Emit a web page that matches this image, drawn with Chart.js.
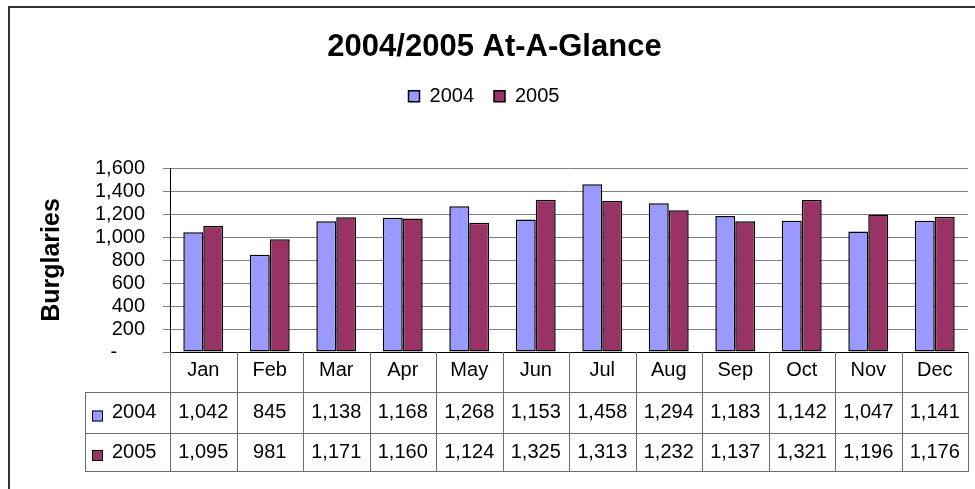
<!DOCTYPE html>
<html>
<head>
<meta charset="utf-8">
<script src="https://cdn.jsdelivr.net/npm/chart.js@4/dist/chart.umd.min.js"></script>
<style>
html,body{margin:0;padding:0;background:#fff;overflow:hidden}
#wrap{width:975px;height:489px;position:relative}
</style>
</head>
<body>
<div id="wrap"><canvas id="c" width="975" height="489"></canvas></div>
<script>
// ---- data ----
const months = ['Jan','Feb','Mar','Apr','May','Jun','Jul','Aug','Sep','Oct','Nov','Dec'];
const seriesNames = ['2004','2005'];
const values2004 = [1042,845,1138,1168,1268,1153,1458,1294,1183,1142,1047,1141];
const values2005 = [1095,981,1171,1160,1124,1325,1313,1232,1137,1321,1196,1176];
const yMin = 0, yMax = 1600, yStep = 200;
const chartTitle = '2004/2005 At-A-Glance';
const yTitle = 'Burglaries';

// ---- styles ----
const FONT = 'Arial, "Liberation Sans", sans-serif';
const colors = ['#9999FF', '#993366'];
const fmt = v => v.toLocaleString('en-US');
const TOP_OF_PLOT = 168;

// empty layout box that keeps a gap between the legend and the plot
const spacerPlugin = {
  id: 'spacer',
  beforeInit(chart) {
    const box = {
      position: 'top', weight: 500, fullSize: true, options: {},
      top: 0, left: 0, right: 0, bottom: 0, width: 0, height: 0,
      isHorizontal() { return true; },
      update(maxWidth) {
        this.width = maxWidth;
        const t = chart.titleBlock, l = chart.legend;
        const used = (t ? t.height : 0) + (l ? l.height : 0);
        this.height = Math.max(0, TOP_OF_PLOT - used);
      },
      draw() {}
    };
    Chart.layouts.addBox(chart, box);
  }
};

const tablePlugin = {
  id: 'dataTable',
  afterLayout(chart) {
    if (chart.titleBlock) chart.titleBlock.left = 21;
  },
  beforeDraw(chart) {
    const ctx = chart.ctx;
    ctx.save();
    ctx.fillStyle = '#fff';
    ctx.fillRect(0, 0, chart.width, chart.height);
    ctx.strokeStyle = '#333';
    ctx.lineWidth = 2;
    ctx.strokeRect(9, 7, 1000, 600);
    ctx.restore();
  },
  afterDraw(chart) {
    const ctx = chart.ctx;
    const x = chart.scales.x;
    const area = chart.chartArea;
    const n = months.length;
    const half = (x.getPixelForValue(1) - x.getPixelForValue(0)) / 2;
    const top = area.bottom;
    const rowLines = [392, 433, 471];
    const legendLeft = 85;
    const right = x.getPixelForValue(n - 1) + half;
    ctx.save();
    ctx.strokeStyle = '#6e6e6e';
    ctx.lineWidth = 1;
    ctx.beginPath();
    for (let i = 0; i <= n; i++) {
      const bx = Math.round(x.getPixelForValue(0) - half + i * 2 * half) + 0.5;
      ctx.moveTo(bx, top);
      ctx.lineTo(bx, rowLines[2]);
    }
    ctx.moveTo(legendLeft + 0.5, rowLines[0]);
    ctx.lineTo(legendLeft + 0.5, rowLines[2]);
    rowLines.forEach(ry => {
      ctx.moveTo(legendLeft, ry + 0.5);
      ctx.lineTo(Math.round(right) + 1, ry + 0.5);
    });
    ctx.stroke();

    const rows = [values2004, values2005];
    const centers = [412.5, 452];
    ctx.font = '20px ' + FONT;
    ctx.fillStyle = '#000';
    ctx.textBaseline = 'middle';
    rows.forEach((vals, r) => {
      ctx.textAlign = 'center';
      vals.forEach((v, i) => {
        ctx.fillText(fmt(v), x.getPixelForValue(i), centers[r]);
      });
      ctx.fillStyle = colors[r];
      ctx.fillRect(92, centers[r] - 2, 11, 11);
      ctx.strokeStyle = '#000';
      ctx.strokeRect(92.5, centers[r] - 1.5, 10, 10);
      ctx.fillStyle = '#000';
      ctx.textAlign = 'left';
      ctx.fillText(seriesNames[r], 112, centers[r]);
    });
    ctx.restore();
  }
};

new Chart(document.getElementById('c'), {
  type: 'bar',
  data: {
    labels: months,
    datasets: [
      { label: seriesNames[0], data: values2004, backgroundColor: colors[0], borderColor: '#000', borderWidth: 1.5, borderSkipped: false, categoryPercentage: 0.6, barPercentage: 1.0 },
      { label: seriesNames[1], data: values2005, backgroundColor: colors[1], borderColor: '#000', borderWidth: 1.5, borderSkipped: false, categoryPercentage: 0.6, barPercentage: 1.0 }
    ]
  },
  options: {
    responsive: false,
    animation: false,
    devicePixelRatio: 1,
    layout: { padding: { left: 0, right: 7, top: 0, bottom: 0 } },
    plugins: {
      title: {
        display: true, text: chartTitle, color: '#000',
        font: { family: FONT, size: 31, weight: 'bold' },
        padding: { top: 29, bottom: 0 }
      },
      legend: {
        display: true, position: 'top',
        labels: { color: '#000', font: { family: FONT, size: 20 }, boxWidth: 11, boxHeight: 11, padding: 20 }
      },
      tooltip: { enabled: false }
    },
    scales: {
      x: {
        grid: { display: false, drawTicks: false },
        border: { display: true, color: '#000', width: 1 },
        ticks: { color: '#000', font: { family: FONT, size: 20 }, padding: 6, maxRotation: 0, autoSkip: false },
        afterFit(s) { s.height = 137; }
      },
      y: {
        min: yMin, max: yMax,
        grid: { color: '#808080', tickLength: 7 },
        border: { display: true, color: '#000', width: 1 },
        ticks: {
          stepSize: yStep, autoSkip: false, color: '#000', font: { family: FONT, size: 20 }, padding: 18,
          callback: v => v === 0 ? '-     ' : fmt(v)
        },
        title: { display: true, text: yTitle, color: '#000', font: { family: FONT, size: 25, weight: 'bold' }, padding: { top: 37, bottom: 0 } },
        afterFit(s) { s.width = 170; }
      }
    }
  },
  plugins: [spacerPlugin, tablePlugin]
});
</script>
</body>
</html>
